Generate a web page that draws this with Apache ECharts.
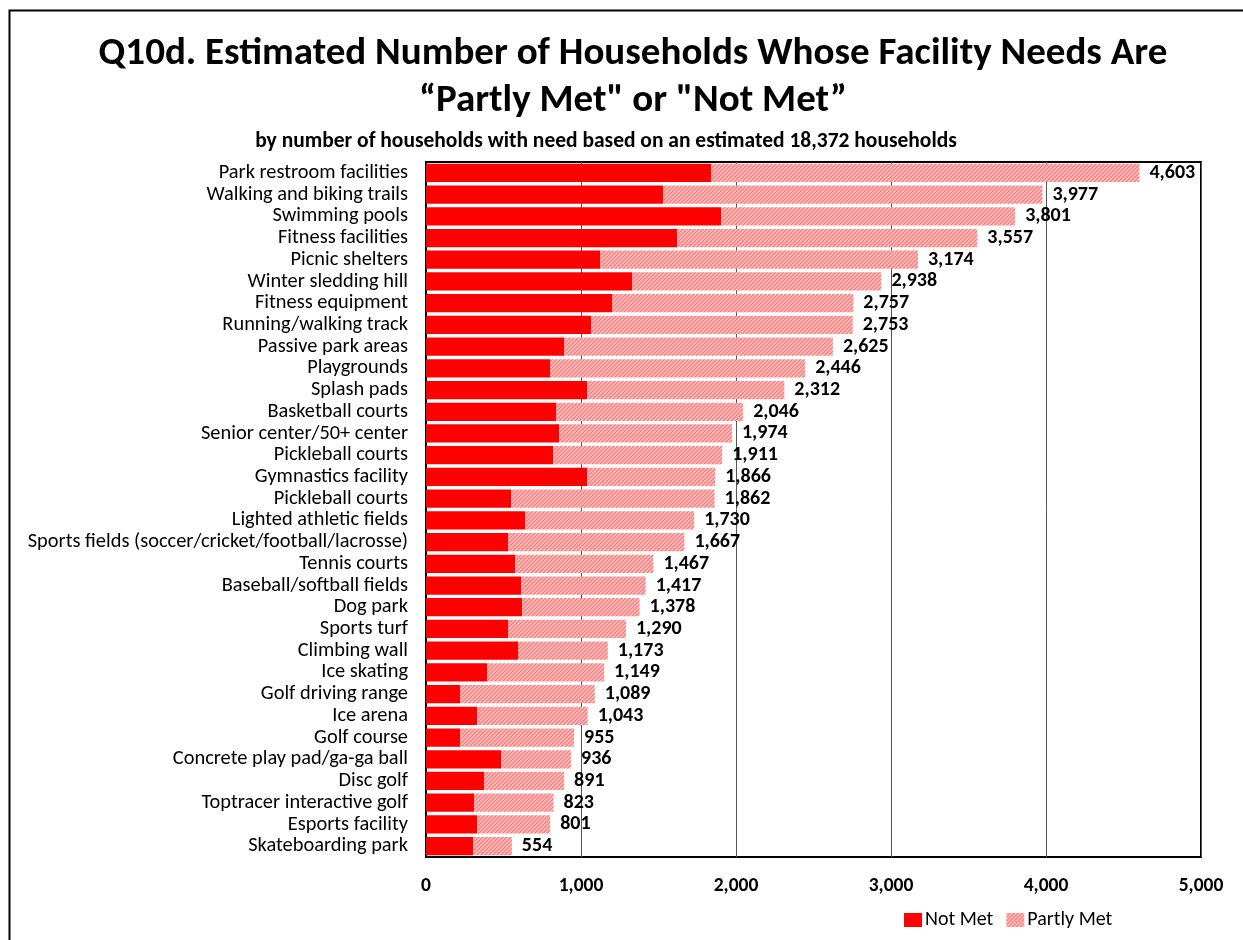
<!DOCTYPE html>
<html>
<head>
<meta charset="utf-8">
<script src="https://cdn.jsdelivr.net/npm/echarts@6/dist/echarts.min.js"></script>
<style>
html,body{margin:0;padding:0;background:#fff;}
#chart{width:1243px;height:940px;}
</style>
</head>
<body>
<div id="chart"></div>
<script>
var categories = [
  "Park restroom facilities","Walking and biking trails","Swimming pools","Fitness facilities",
  "Picnic shelters","Winter sledding hill","Fitness equipment","Running/walking track",
  "Passive park areas","Playgrounds","Splash pads","Basketball courts",
  "Senior center/50+ center","Pickleball courts","Gymnastics facility","Pickleball courts",
  "Lighted athletic fields","Sports fields (soccer/cricket/football/lacrosse)","Tennis courts","Baseball/softball fields",
  "Dog park","Sports turf","Climbing wall","Ice skating",
  "Golf driving range","Ice arena","Golf course","Concrete play pad/ga-ga ball",
  "Disc golf","Toptracer interactive golf","Esports facility","Skateboarding park"
];
var notMet = [1841,1531,1905,1621,1125,1331,1200,1065,892,800,1041,841,860,821,1041,550,641,531,576,615,621,531,596,396,221,331,221,486,376,310,331,305];
var partlyMet = [2762,2446,1896,1936,2049,1607,1557,1688,1733,1646,1271,1205,1114,1090,825,1312,1089,1136,891,802,757,759,577,753,868,712,734,450,515,513,470,249];
var totals = [4603,3977,3801,3557,3174,2938,2757,2753,2625,2446,2312,2046,1974,1911,1866,1862,1730,1667,1467,1417,1378,1290,1173,1149,1089,1043,955,936,891,823,801,554];
var xTicks = [0,1000,2000,3000,4000,5000];

var FONT = "Carlito, Lato, 'Liberation Sans', sans-serif";

// hatch pattern for "Partly Met"
var pc = document.createElement('canvas');
pc.width = 4; pc.height = 4;
var ctx = pc.getContext('2d');
ctx.fillStyle = '#ffd9d9';
ctx.fillRect(0,0,4,4);
ctx.strokeStyle = '#ff7c7c';
ctx.lineWidth = 1.6;
ctx.beginPath();
ctx.moveTo(-1,1); ctx.lineTo(1,-1);
ctx.moveTo(0,4); ctx.lineTo(4,0);
ctx.moveTo(3,5); ctx.lineTo(5,3);
ctx.stroke();

var chart = echarts.init(document.getElementById('chart'), null, {renderer:'canvas'});
chart.setOption({
  animation: false,
  backgroundColor: '#fff',
  graphic: [{
    type: 'rect', left: 7, top: 8, shape: {width: 1300, height: 1000},
    style: {fill: 'none', stroke: '#000', lineWidth: 2}, silent: true, z: -1
  }],
  title: [{
    text: 'Q10d. Estimated Number of Households Whose Facility Needs Are\n\u201cPartly Met" or "Not Met\u201d',
    left: 628, textAlign: 'center', top: 26,
    textStyle: {fontFamily: FONT, fontSize: 39, fontWeight: 'bold', color: '#000', lineHeight: 47}
  },{
    text: 'by number of households with need based on an estimated 18,372 households',
    left: 601, textAlign: 'center', top: 126,
    textStyle: {fontFamily: FONT, fontSize: 21.5, fontWeight: 'bold', color: '#000'}
  }],
  legend: {
    left: 899, top: 905, itemWidth: 18, itemHeight: 14, itemGap: 13, icon: 'rect',
    textStyle: {fontFamily: FONT, fontSize: 20, color: '#000', padding: [0,0,0,-2]},
    data: ['Not Met', 'Partly Met']
  },
  grid: {
    left: 426, right: 42, top: 162, bottom: 83,
    show: true, borderColor: '#000', borderWidth: 2, backgroundColor: 'transparent'
  },
  xAxis: {
    type: 'value', min: 0, max: 5000, interval: 1000,
    axisLine: {show: false}, axisTick: {show: false},
    splitLine: {show: true, lineStyle: {color: '#555', width: 1}},
    axisLabel: {
      margin: 19, fontFamily: FONT, fontSize: 19.5, fontWeight: 'bold', color: '#000',
      formatter: function(v){ return xTicks.indexOf(v) >= 0 ? v.toLocaleString('en-US') : ''; }
    }
  },
  yAxis: {
    type: 'category', data: categories, inverse: true,
    axisLine: {show: true, lineStyle: {color: '#000', width: 2}},
    axisTick: {show: false},
    axisLabel: {interval: 0, margin: 18, fontFamily: FONT, fontSize: 20.4, color: '#000'}
  },
  series: [{
    name: 'Not Met', type: 'bar', stack: 'a', data: notMet,
    barCategoryGap: '16%',
    itemStyle: {color: '#ff0000'}
  },{
    name: 'Partly Met', type: 'bar', stack: 'a', data: partlyMet,
    itemStyle: {color: {image: pc, repeat: 'repeat'}},
    label: {
      show: true, position: 'right', distance: 10,
      fontFamily: FONT, fontSize: 20, fontWeight: 'bold', color: '#000',
      formatter: function(p){ return totals[p.dataIndex].toLocaleString('en-US'); }
    }
  }]
});
</script>
</body>
</html>
